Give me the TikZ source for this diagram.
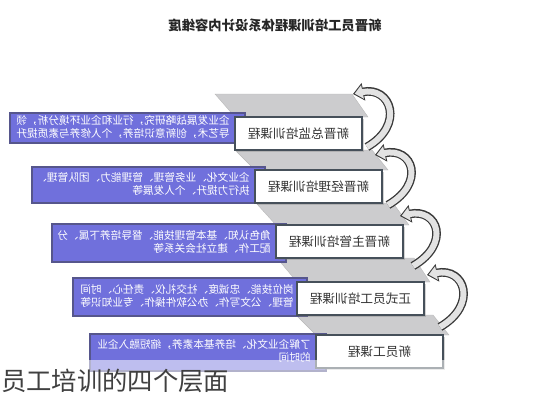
\documentclass[tikz,border=0pt]{standalone}
\usepackage{fontspec}
\setmainfont{Noto Sans CJK SC}
\usepackage{graphicx}
\usetikzlibrary{arrows.meta,shadows}
\definecolor{stepblue}{RGB}{112,112,220}
\definecolor{stepedge}{RGB}{86,86,140}
\definecolor{treadgray}{RGB}{204,204,206}
\definecolor{boxedge}{RGB}{70,80,90}
\tikzset{
  tread/.style={fill=treadgray, draw=gray!55, line width=0.3pt},
  bluebar/.style={fill=stepblue, draw=stepedge, line width=0.8pt},
  desc/.style={text=white, font=\fontsize{8}{7.6}\selectfont, inner sep=0pt, anchor=east},
  lvlbox/.style={draw=boxedge, line width=1.2pt, fill=white, minimum width=95.25pt, minimum height=24.75pt, inner sep=0pt, font=\fontsize{9.5}{11}\selectfont, text=black!80, drop shadow={shadow xshift=1.2pt, shadow yshift=-1.2pt, opacity=0.35}},
  turnout/.style={draw=gray!45!black, line width=6.5pt, -{Triangle[length=8pt,width=13pt]}},
  turnin/.style={draw=gray!22, line width=4.5pt, -{Triangle[length=6pt,width=10pt]}, shorten >=1.3pt}
}
\begin{document}
\begin{tikzpicture}[x=0.75pt, y=-0.75pt]
\useasboundingbox (0,0) rectangle (533,400);

% treads
\fill[tread] (215,94) -- (352,94) -- (368,117) -- (235,117) -- cycle;
\fill[tread] (235,150) -- (372,150) -- (388,170) -- (255,170) -- cycle;
\fill[tread] (256,203) -- (393,203) -- (409,225) -- (276,225) -- cycle;
\fill[tread] (277,258) -- (414,258) -- (430,282) -- (297,282) -- cycle;
\fill[tread] (296,315) -- (433,315) -- (449,335) -- (316,335) -- cycle;

% blue bars
\draw[bluebar] (10,113) rectangle (245,143);
\draw[bluebar] (32,167) rectangle (265,203);
\draw[bluebar] (52,224) rectangle (286,262);
\draw[bluebar] (73,278) rectangle (307,316);
\draw[bluebar] (90,334) rectangle (326,371);

\node[desc] (d1) at (230,128) {\reflectbox{\begin{tabular}{@{}l@{}}企业发展战略研究，行业和企业环境分析，领\\导艺术，创新意识培养，个人修养与素质提升\end{tabular}}};
\node[desc] (d2) at (250,185) {\reflectbox{\begin{tabular}{@{}l@{}}企业文化、业务管理、管理能力、团队管理、\\执行力提升、个人发展等\end{tabular}}};
\node[desc] (d3) at (271,243) {\reflectbox{\begin{tabular}{@{}l@{}}角色认知、基本管理技能、督导培养下属、分\\配工作、建立社会关系等\end{tabular}}};
\node[desc] (d4) at (294,297) {\reflectbox{\begin{tabular}{@{}l@{}}岗位技能、忠诚度、社交礼仪、责任心、时间\\管理、公文写作、办公软件操作、专业知识等\end{tabular}}};
\node[desc] (d5) at (311,352) {\reflectbox{\begin{tabular}{@{}l@{}}了解企业文化、培养基本素养，缩短融入企业\\的时间\end{tabular}}};

% level boxes
\node[lvlbox] (l1) at (298.5,133.5) {\reflectbox{新晋总监培训课程}};
\node[lvlbox] (l2) at (318.5,186.5) {\reflectbox{新晋经理培训课程}};
\node[lvlbox] (l3) at (339.5,241.5) {\reflectbox{新晋主管培训课程}};
\node[lvlbox] (l4) at (360.5,298.5) {\reflectbox{正式员工培训课程}};
\node[lvlbox] (l5) at (379.5,351.5) {\reflectbox{新员工课程}};

% turning arrows
\coordinate (t1) at (367,147); \coordinate (h1) at (353,94);
\coordinate (t2) at (388,205); \coordinate (h2) at (375,155);
\coordinate (t3) at (413,266); \coordinate (h3) at (400,216);
\coordinate (t4) at (440,327); \coordinate (h4) at (427,275);
\draw[turnout] (t1) .. controls +(38,-22) and +(38,-8) .. (h1);
\draw[turnin] (t1) .. controls +(38,-22) and +(38,-8) .. (h1);
\draw[turnout] (t2) .. controls +(38,-22) and +(38,-8) .. (h2);
\draw[turnin] (t2) .. controls +(38,-22) and +(38,-8) .. (h2);
\draw[turnout] (t3) .. controls +(38,-22) and +(38,-8) .. (h3);
\draw[turnin] (t3) .. controls +(38,-22) and +(38,-8) .. (h3);
\draw[turnout] (t4) .. controls +(38,-22) and +(38,-8) .. (h4);
\draw[turnin] (t4) .. controls +(38,-22) and +(38,-8) .. (h4);

% title and caption
\node[font=\fontsize{10}{12}\selectfont\bfseries, text=black!85] (title) at (275,25) {\reflectbox{新晋员工培训课程体系设计内容维度}};
\fill[white, opacity=0.55] (0,360) rectangle (533,400);
\node[anchor=west, inner sep=0pt, font=\fontsize{19}{22}\selectfont, text=black!75] (cap) at (1,381) {员工培训的四个层面};
\end{tikzpicture}
\end{document}
